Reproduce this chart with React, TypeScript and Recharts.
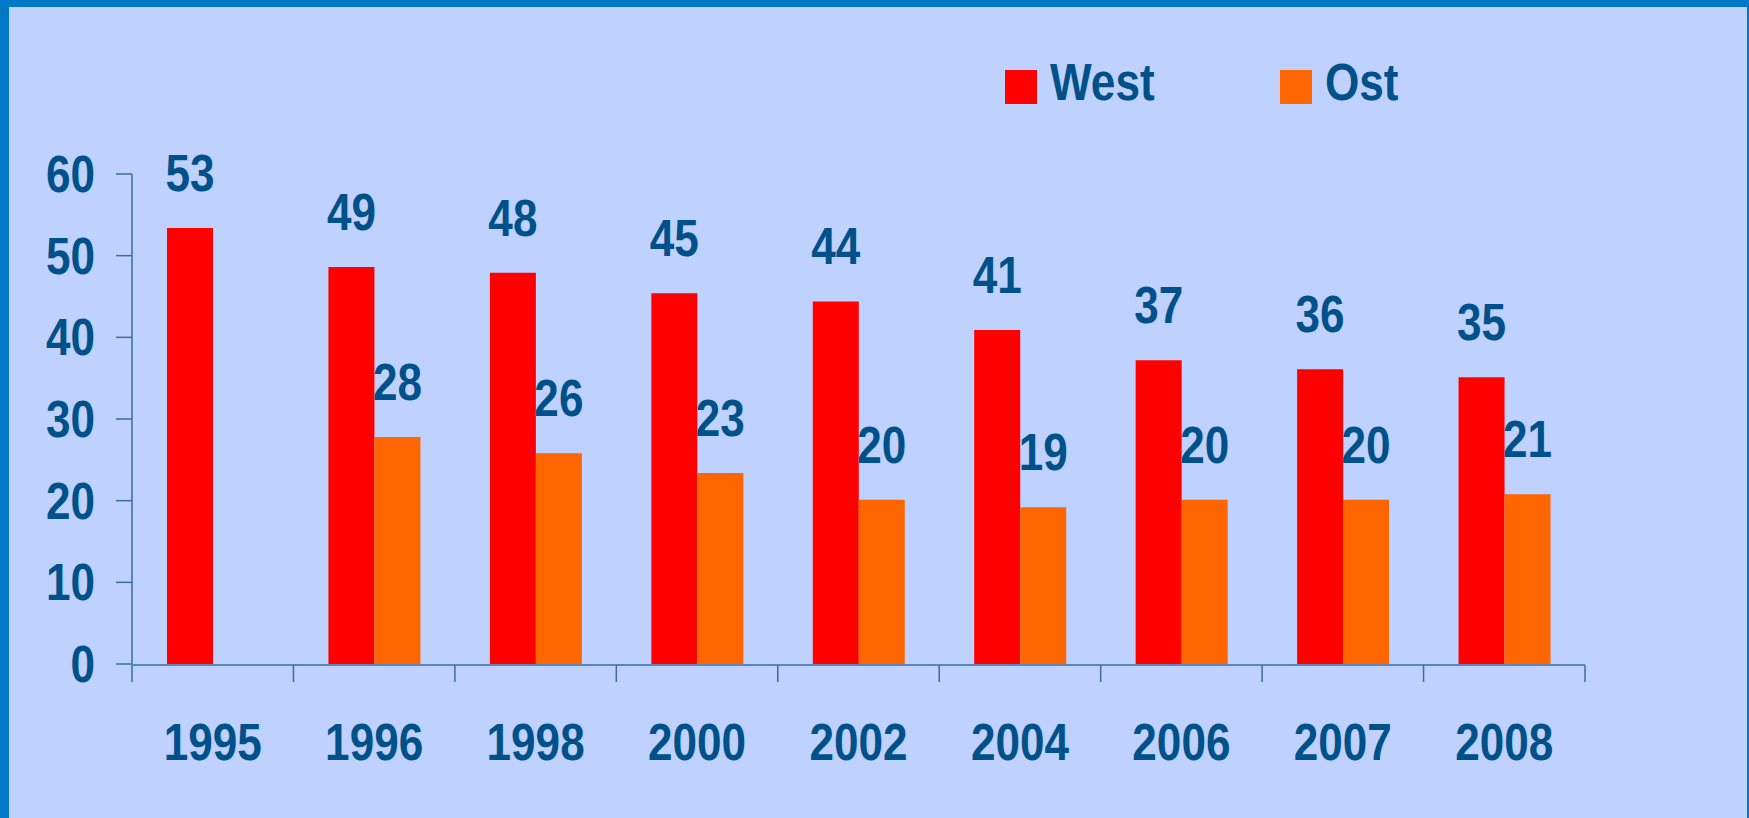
import React from "react";
import { BarChart, Bar, XAxis, YAxis, Legend, LabelList } from "recharts";

// data
const years = ["1995", "1996", "1998", "2000", "2002", "2004", "2006", "2007", "2008"];
const west = [53.4, 48.6, 47.9, 45.4, 44.4, 40.9, 37.2, 36.1, 35.1];
const ost = [null, 27.8, 25.8, 23.4, 20.1, 19.2, 20.1, 20.1, 20.8];
const seriesNames = ["West", "Ost"];
const yTicks = [0, 10, 20, 30, 40, 50, 60];
// tick marks sit between the year groups
const edgeTicks = [-0.5, 0.5, 1.5, 2.5, 3.5, 4.5, 5.5, 6.5, 7.5, 8.5];

const data = years.map((year, i) => ({ year, slot: i, West: west[i], Ost: ost[i] }));

const TEXT = "#00518A";
const AXIS = "#3A6CA6";
const FONT = "'Liberation Sans', Arial, sans-serif";
const SQUEEZE = 0.865;

const txt = {
  fill: TEXT,
  fontFamily: FONT,
  fontWeight: 700,
  fontSize: 51,
};

const YTick = (props: any) => {
  const { x, y, payload } = props;
  return (
    <text transform={`translate(${x},${y}) scale(${SQUEEZE},1)`} textAnchor="end" dy="0.35em" {...txt}>
      {payload.value}
    </text>
  );
};

const XTick = (props: any) => {
  const { x, y, payload } = props;
  return (
    <text transform={`translate(${x},${y}) scale(${SQUEEZE},1)`} textAnchor="middle" dy="0.716em" {...txt}>
      {payload.value}
    </text>
  );
};

const NoLabel = () => <g />;

const ValueLabel = (props: any) => {
  const { x, y, width, value } = props;
  if (value == null) return null;
  return (
    <text
      transform={`translate(${x + width / 2},${y - 37}) scale(${SQUEEZE},1)`}
      textAnchor="middle"
      {...txt}
    >
      {Math.round(value)}
    </text>
  );
};

const LegendBox = (props: any) => {
  const items = [...(props.payload || [])].sort(
    (a: any, b: any) => seriesNames.indexOf(a.value) - seriesNames.indexOf(b.value)
  );
  return (
    <div style={{ position: "relative", width: 1749, height: 120 }}>
      {items.map((p: any, i: number) => (
        <div key={p.value} style={{ position: "absolute", left: 1005 + i * 275, top: 0 }}>
          <div style={{ position: "absolute", left: 0, top: 70, width: 32, height: 34, background: p.color }} />
          <div
            style={{
              position: "absolute",
              left: 45,
              top: 57,
              lineHeight: "51px",
              fontSize: 51,
              fontWeight: 700,
              fontFamily: FONT,
              color: TEXT,
              whiteSpace: "nowrap",
              transform: `scaleX(${SQUEEZE})`,
              transformOrigin: "left center",
            }}
          >
            {p.value}
          </div>
        </div>
      ))}
    </div>
  );
};

export default function App() {
  return (
    <div style={{ position: "relative", width: 1749, height: 818, background: "#BFD1FF", overflow: "hidden" }}>
      <style>{"body{margin:0}"}</style>
      <BarChart
        width={1749}
        height={818}
        data={data}
        margin={{ top: 174, right: 164, bottom: 152, left: 0 }}
        barSize={46}
        barGap={0}
      >
        <XAxis
          xAxisId="edges"
          type="number"
          dataKey="slot"
          domain={[-0.5, 8.5]}
          ticks={edgeTicks}
          allowDataOverflow
          height={1}
          tick={<NoLabel />}
          tickSize={17}
          axisLine={{ stroke: AXIS, strokeWidth: 1.5 }}
          tickLine={{ stroke: AXIS, strokeWidth: 1.5 }}
        />
        <XAxis
          xAxisId="cat"
          dataKey="year"
          height={1}
          axisLine={false}
          tickLine={false}
          tickSize={0}
          tickMargin={59}
          tick={<XTick />}
          interval={0}
        />
        <YAxis
          domain={[0, 60]}
          ticks={yTicks}
          width={132}
          tickSize={16}
          tickMargin={21}
          tick={<YTick />}
          axisLine={{ stroke: AXIS, strokeWidth: 1.5 }}
          tickLine={{ stroke: AXIS, strokeWidth: 1.5 }}
        />
        <Legend
          verticalAlign="middle"
          align="center"
          content={<LegendBox />}
          wrapperStyle={{ top: 0, left: 0, width: 1749, height: 120 }}
        />
        <Bar xAxisId="cat" dataKey="West" name="West" fill="#FF0000" isAnimationActive={false}>
          <LabelList dataKey="West" content={<ValueLabel />} />
        </Bar>
        <Bar xAxisId="cat" dataKey="Ost" name="Ost" fill="#FF6600" isAnimationActive={false}>
          <LabelList dataKey="Ost" content={<ValueLabel />} />
        </Bar>
      </BarChart>
      <div style={{ position: "absolute", left: 0, top: 0, width: 9, height: 818, background: "#0078C8" }} />
      <div style={{ position: "absolute", left: 0, top: 0, width: 1749, height: 7, background: "#0078C8" }} />
      <div style={{ position: "absolute", right: 0, top: 0, width: 2, height: 818, background: "#0078C8" }} />
    </div>
  );
}
